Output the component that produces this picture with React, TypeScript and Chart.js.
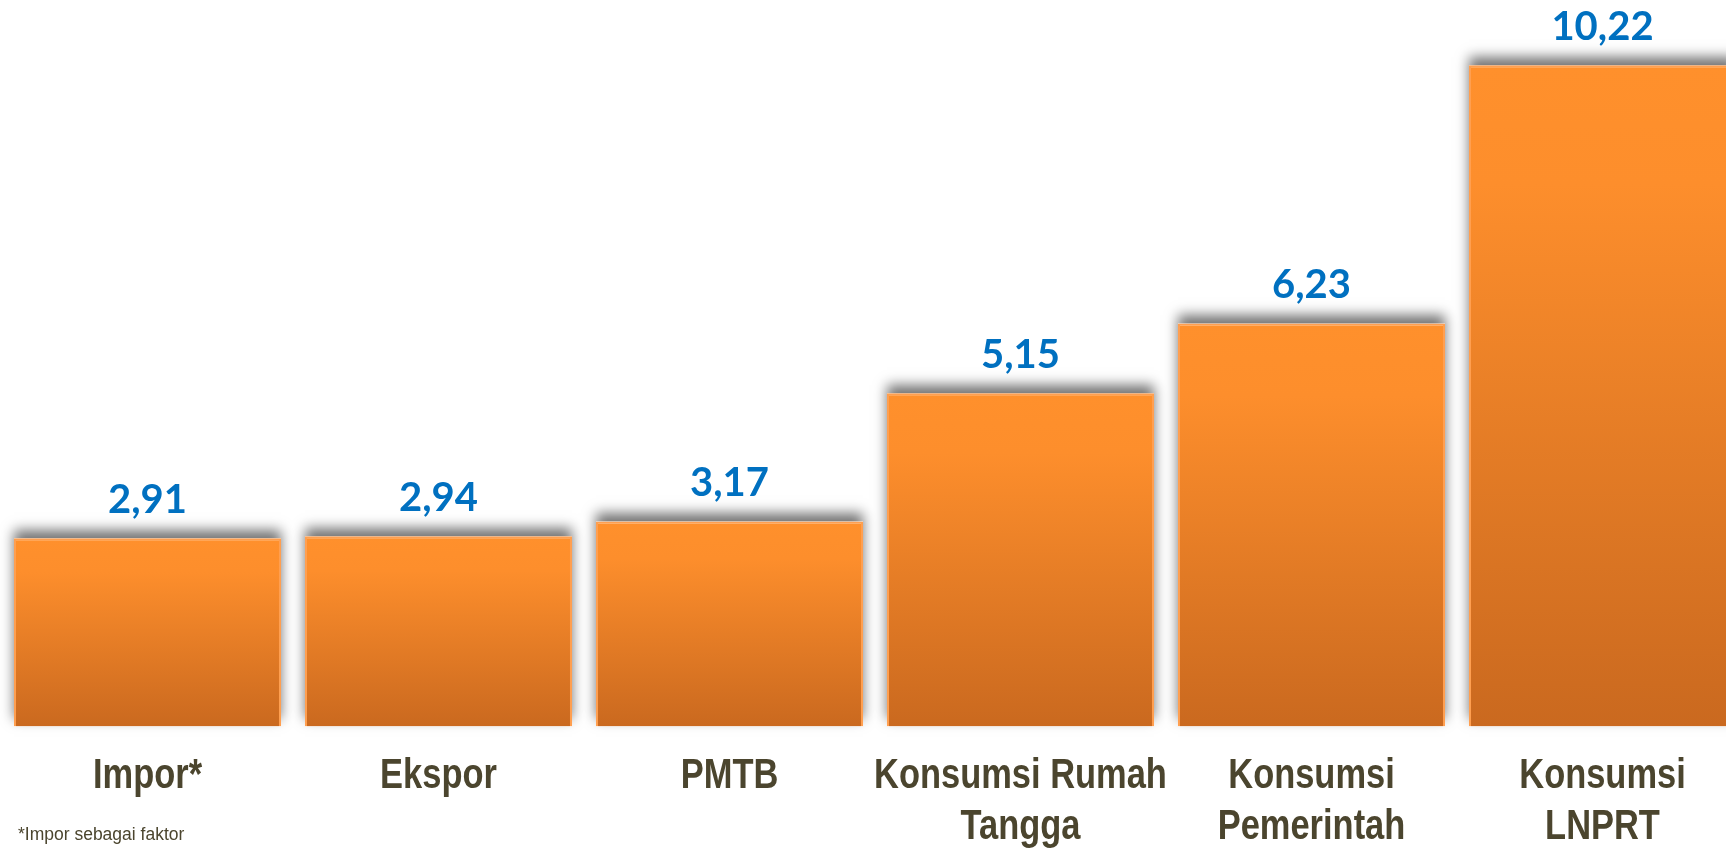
import React, { useEffect, useRef } from "react";
import { Chart, registerables } from "chart.js";

Chart.register(...registerables);

const categories: string[][] = [
  ["Impor*"],
  ["Ekspor"],
  ["PMTB"],
  ["Konsumsi Rumah", "Tangga"],
  ["Konsumsi", "Pemerintah"],
  ["Konsumsi", "LNPRT"],
];
const values: number[] = [2.91, 2.94, 3.17, 5.15, 6.23, 10.22];
const footnote = "*Impor sebagai faktor";

const fmt = (v: number) => v.toFixed(2).replace(".", ",");

const shadowPlugin = {
  id: "barShadow",
  beforeDatasetsDraw(chart: any) {
    const ctx = chart.ctx;
    const meta = chart.getDatasetMeta(0);
    ctx.save();
    ctx.shadowColor = "rgba(0,0,0,0.55)";
    ctx.shadowBlur = 12;
    ctx.shadowOffsetX = 0;
    ctx.shadowOffsetY = -8;
    ctx.fillStyle = "#ffffff";
    meta.data.forEach((bar: any) => {
      const p = bar.getProps(["x", "y", "base", "width"], true);
      const left = p.x - p.width / 2;
      ctx.fillRect(left, p.y, p.width, p.base - p.y);
    });
    ctx.restore();
  },
  afterDatasetsDraw(chart: any) {
    const ctx = chart.ctx;
    const meta = chart.getDatasetMeta(0);
    ctx.save();
    ctx.fillStyle = "#0070C0";
    ctx.font = "bold 40px Lato";
    ctx.textAlign = "center";
    ctx.textBaseline = "alphabetic";
    meta.data.forEach((bar: any, i: number) => {
      ctx.fillText(fmt(values[i]), bar.x, bar.y - 25);
    });
    ctx.restore();
  },
  afterDraw(chart: any) {
    const ctx = chart.ctx;
    const xs = chart.scales.x;
    const bottom = chart.chartArea.bottom;
    ctx.save();
    ctx.fillStyle = "#4B452E";
    ctx.font = "bold 42px 'Liberation Sans', Arial, sans-serif";
    ctx.textAlign = "center";
    ctx.textBaseline = "alphabetic";
    categories.forEach((lines, i) => {
      const x = xs.getPixelForTick(i);
      lines.forEach((line, j) => {
        ctx.save();
        ctx.translate(x, bottom + 61.5 + j * 51);
        ctx.scale(0.82, 1);
        ctx.fillText(line, 0, 0);
        ctx.restore();
      });
    });
    ctx.restore();
  },
};

export default function App() {
  const ref = useRef<HTMLCanvasElement | null>(null);
  useEffect(() => {
    if (!ref.current) return;
    const chart = new Chart(ref.current, {
      type: "bar",
      data: {
        labels: categories,
        datasets: [
          {
            data: values,
            backgroundColor: (c: any) => {
              const ch = c.chart;
              const ys = ch.scales && ch.scales.y;
              if (!ys || c.dataIndex === undefined) return "#F7892B";
              const top = ys.getPixelForValue(values[c.dataIndex]);
              const base = ys.getPixelForValue(0);
              if (!isFinite(top) || !isFinite(base) || top === base) return "#F7892B";
              const g = ch.ctx.createLinearGradient(0, top, 0, base);
              g.addColorStop(0, "#FF902C");
              g.addColorStop(0.18, "#FD8E2C");
              g.addColorStop(1, "#CA691F");
              return g;
            },
            borderColor: "#FF9F50",
            borderWidth: 2,
            categoryPercentage: 1,
            barPercentage: 0.9175,
          },
        ],
      },
      options: {
        animation: false,
        responsive: true,
        maintainAspectRatio: false,
        layout: { padding: { left: 2, right: 12, top: 0, bottom: 0 } },
        plugins: { legend: { display: false }, tooltip: { enabled: false } },
        scales: {
          y: { display: false, min: 0, max: 11.23 },
          x: {
            afterFit: (s: any) => {
              s.height = 121.5;
            },
            grid: { display: false, drawTicks: false },
            border: { display: false },
            ticks: { display: false },
          },
        },
      },
      plugins: [shadowPlugin],
    });
    return () => chart.destroy();
  }, []);

  return (
    <div style={{ position: "fixed", left: 0, top: 0, width: 1726, height: 848, overflow: "hidden", background: "#fff" }}>
      <div style={{ position: "absolute", left: 0, top: 0, width: 1760, height: 848 }}>
        <canvas ref={ref} />
      </div>
      <div
        style={{
          position: "absolute",
          left: 18,
          top: 824,
          fontFamily: "'Liberation Sans', Arial, sans-serif",
          fontSize: 17.5,
          lineHeight: "20px",
          whiteSpace: "nowrap",
          color: "#4B452E",
        }}
      >
        {footnote}
      </div>
    </div>
  );
}
